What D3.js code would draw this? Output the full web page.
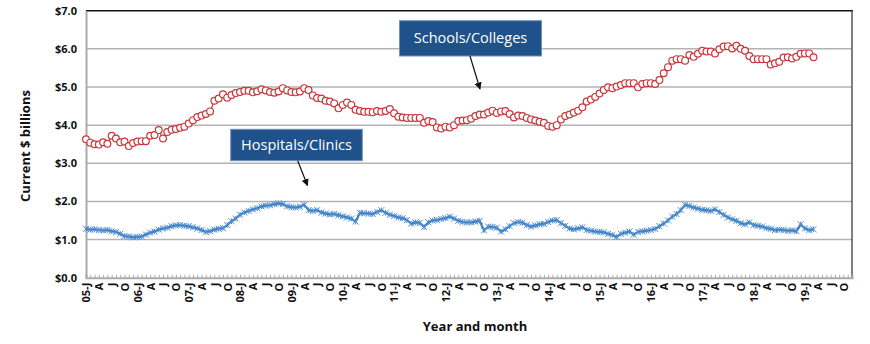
<!DOCTYPE html>
<html><head><meta charset="utf-8">
<script src="https://cdn.jsdelivr.net/npm/d3@7/dist/d3.min.js"></script>
<style>
body{margin:0;background:#fff;}
text{font-family:"Open Sans",Lato,sans-serif;}
</style></head>
<body><svg id="c" width="870" height="344"></svg>
<script>
// Monthly values, Jan 2005 .. Mar 2019 (current $ billions)
const schools = [3.63,3.54,3.50,3.49,3.55,3.51,3.72,3.65,3.55,3.57,3.45,3.53,
3.57,3.58,3.58,3.72,3.74,3.87,3.65,3.82,3.88,3.90,3.93,3.96,
4.04,4.13,4.21,4.25,4.29,4.36,4.64,4.70,4.81,4.72,4.79,4.84,
4.87,4.90,4.90,4.86,4.89,4.94,4.91,4.87,4.85,4.88,4.97,4.91,
4.87,4.86,4.88,4.97,4.92,4.78,4.71,4.70,4.64,4.62,4.57,4.44,
4.53,4.59,4.53,4.40,4.37,4.35,4.35,4.34,4.37,4.35,4.37,4.42,
4.31,4.22,4.20,4.19,4.19,4.19,4.19,4.06,4.11,4.08,3.94,3.91,
3.96,3.94,4.00,4.11,4.12,4.13,4.17,4.24,4.28,4.28,4.33,4.38,
4.32,4.36,4.37,4.29,4.20,4.25,4.24,4.19,4.15,4.12,4.09,4.06,
3.98,3.96,4.00,4.15,4.24,4.28,4.33,4.38,4.47,4.62,4.67,4.74,
4.83,4.92,4.99,4.97,5.01,5.05,5.10,5.10,5.10,4.99,5.08,5.10,
5.10,5.08,5.18,5.36,5.52,5.69,5.73,5.73,5.69,5.84,5.79,5.87,
5.95,5.93,5.93,5.88,5.99,6.06,6.07,6.01,6.08,6.00,5.95,5.81,
5.73,5.73,5.73,5.73,5.59,5.62,5.66,5.77,5.78,5.75,5.79,5.87,
5.88,5.88,5.78];
const hospitals = [1.28,1.26,1.27,1.25,1.24,1.25,1.22,1.20,1.15,1.09,1.08,1.06,
1.07,1.08,1.13,1.18,1.21,1.26,1.29,1.31,1.35,1.37,1.38,1.36,
1.35,1.32,1.29,1.25,1.20,1.22,1.26,1.28,1.30,1.38,1.48,1.55,
1.65,1.71,1.75,1.79,1.82,1.87,1.89,1.90,1.93,1.95,1.93,1.87,
1.85,1.84,1.86,1.91,1.77,1.75,1.77,1.71,1.68,1.66,1.67,1.64,
1.61,1.58,1.55,1.47,1.70,1.69,1.68,1.67,1.72,1.77,1.70,1.65,
1.62,1.58,1.56,1.51,1.42,1.45,1.44,1.33,1.45,1.50,1.51,1.54,
1.56,1.60,1.55,1.49,1.46,1.45,1.45,1.47,1.49,1.24,1.34,1.33,
1.31,1.21,1.27,1.35,1.43,1.46,1.44,1.38,1.34,1.37,1.40,1.41,
1.46,1.50,1.51,1.43,1.36,1.29,1.27,1.29,1.32,1.25,1.23,1.21,
1.20,1.19,1.15,1.12,1.07,1.15,1.18,1.21,1.13,1.20,1.22,1.23,
1.25,1.28,1.35,1.42,1.50,1.60,1.67,1.77,1.91,1.88,1.84,1.81,
1.78,1.77,1.75,1.79,1.72,1.65,1.58,1.53,1.49,1.43,1.40,1.45,
1.38,1.36,1.34,1.30,1.28,1.25,1.26,1.25,1.23,1.24,1.22,1.40,
1.29,1.25,1.27];
const years = ["05","06","07","08","09","10","11","12","13","14","15","16","17","18","19"];
const quarterLabels = ["J","A","J","O"];
const yTicks = [0,1,2,3,4,5,6,7];
const seriesNames = ["Schools/Colleges","Hospitals/Clinics"];

const svg = d3.select("#c");
const L=86, R=852, T=10.7, B=277.7;
const nMonths = years.length*12;
const x = d3.scaleLinear().domain([0,nMonths-1]).range([L,R]);
const y = d3.scaleLinear().domain([0,7]).range([B,T]);

// gridlines
svg.append("g").selectAll("line").data(yTicks.filter(d=>d>0&&d<7)).join("line")
  .attr("x1",L).attr("x2",R).attr("y1",d=>y(d)).attr("y2",d=>y(d))
  .attr("stroke","#b3b3b3").attr("stroke-width",1.5);
// top border & right border
svg.append("line").attr("x1",L).attr("x2",R+1).attr("y1",y(7)).attr("y2",y(7)).attr("stroke","#111").attr("stroke-width",1.5);
svg.append("line").attr("x1",R).attr("x2",R).attr("y1",y(7)).attr("y2",B).attr("stroke","#555").attr("stroke-width",1.5);

// y axis
const ya = svg.append("g").attr("transform",`translate(${L},0)`)
  .call(d3.axisLeft(y).tickValues(yTicks).tickSize(0).tickPadding(9).tickFormat(d=>"$"+d3.format(".1f")(d)));
ya.select(".domain").attr("stroke","#aaa").attr("stroke-width",2);
ya.selectAll("text").attr("font-size",11).attr("font-weight","bold").attr("fill","#111");

// x axis minor ticks (monthly, pointing up)
const xm = svg.append("g").attr("transform",`translate(0,${B})`)
  .call(d3.axisBottom(x).tickValues(d3.range(nMonths)).tickSize(-3).tickFormat(""));
xm.select(".domain").attr("stroke","#aaa").attr("stroke-width",2);
xm.selectAll(".tick line").attr("stroke","#aaa").attr("stroke-width",1);

// x axis quarter labels
const qIdx = d3.range(0,nMonths,3);
const xa = svg.append("g").attr("transform",`translate(0,${B})`)
  .call(d3.axisBottom(x).tickValues(qIdx).tickSize(0).tickFormat(i=>{
    const q = quarterLabels[(i%12)/3];
    return (i%12===0) ? years[i/12]+"-"+q : q;
  }));
xa.select(".domain").remove();
xa.selectAll("text").attr("transform","rotate(-90)").attr("text-anchor","end")
  .attr("x",-5).attr("y",0).attr("dy","0.35em")
  .attr("font-size",11).attr("font-weight","bold").attr("fill","#111");

// hospitals line
const line = d3.line().x((d,i)=>x(i)).y(d=>y(d));
const blue="#3a7bc2", red="#c9353a";
svg.append("path").datum(hospitals).attr("d",line).attr("fill","none").attr("stroke",blue).attr("stroke-width",2.2);
const sym = d3.symbol().type(d3.symbolTimes).size(26);
svg.append("g").selectAll("path").data(hospitals).join("path")
  .attr("transform",(d,i)=>`translate(${x(i)},${y(d)})`).attr("d",sym)
  .attr("fill","none").attr("stroke","#4f8fd0").attr("stroke-width",1);
svg.append("g").selectAll("line").data(hospitals).join("line")
  .attr("x1",(d,i)=>x(i)).attr("x2",(d,i)=>x(i)).attr("y1",d=>y(d)-2.8).attr("y2",d=>y(d)+2.8)
  .attr("stroke","#4f8fd0").attr("stroke-width",1);

// schools line + circles
svg.append("path").datum(schools).attr("d",line).attr("fill","none").attr("stroke",red).attr("stroke-width",1.2);
svg.append("g").selectAll("circle").data(schools).join("circle")
  .attr("cx",(d,i)=>x(i)).attr("cy",d=>y(d)).attr("r",3.4)
  .attr("fill","#fff").attr("stroke",red).attr("stroke-width",1.2);

// axis titles
svg.append("text").attr("transform","translate(30,146) rotate(-90)").attr("text-anchor","middle")
  .attr("font-size",13).attr("font-weight","bold").attr("fill","#111").text("Current $ billions");
svg.append("text").attr("x",475).attr("y",331).attr("text-anchor","middle")
  .attr("font-size",13).attr("font-weight","bold").attr("fill","#111").text("Year and month");

// annotation callouts
const callouts = [
  {name:seriesNames[0], bx:399.5, by:20.7, bw:142, bh:35.3, ax1:470, ay1:56, ax2:480, ay2:89},
  {name:seriesNames[1], bx:230.7, by:129.3, bw:131.6, bh:31.4, ax1:297.7, ay1:160.7, ax2:307.5, ay2:185.5}
];
const defs = svg.append("defs");
defs.append("marker").attr("id","arr").attr("viewBox","0 0 10 10").attr("refX",9).attr("refY",5)
  .attr("markerWidth",6).attr("markerHeight",6).attr("orient","auto")
  .append("path").attr("d","M0,0 L10,5 L0,10 z").attr("fill","#111");
callouts.forEach(c=>{
  svg.append("rect").attr("x",c.bx).attr("y",c.by).attr("width",c.bw).attr("height",c.bh)
    .attr("fill","#1f528b").attr("stroke","#6f90bd").attr("stroke-width",1);
  svg.append("text").attr("x",c.bx+c.bw/2).attr("y",c.by+c.bh/2).attr("dy","0.35em")
    .attr("text-anchor","middle").attr("font-size",14.5).attr("fill","#fff").text(c.name);
  svg.append("line").attr("x1",c.ax1).attr("y1",c.ay1).attr("x2",c.ax2).attr("y2",c.ay2)
    .attr("stroke","#111").attr("stroke-width",1.2).attr("marker-end","url(#arr)");
});
</script></body></html>
